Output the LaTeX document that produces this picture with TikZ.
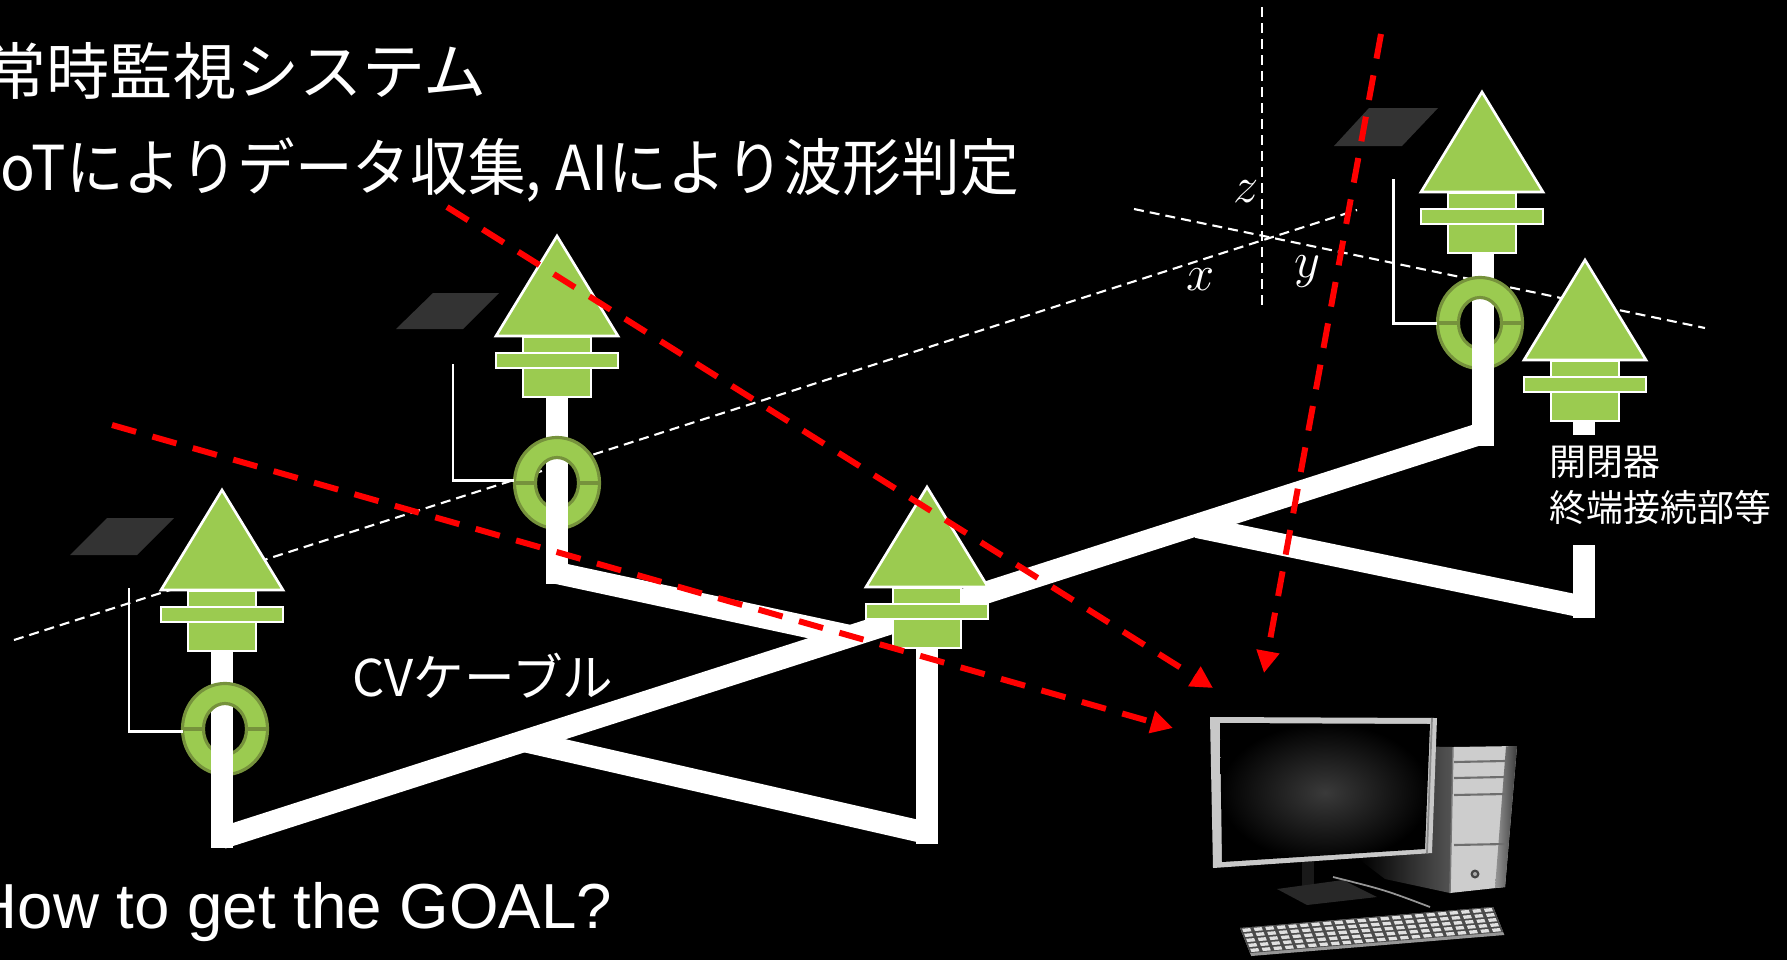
\documentclass[tikz,border=0pt]{standalone}
\usepackage{graphicx}
\usepackage{fontspec}
\newfontfamily\cjk{Noto Sans CJK JP}
\newfontfamily\arial{Liberation Sans}
\usetikzlibrary{arrows.meta}

\definecolor{sgreen}{RGB}{155,203,80}
\definecolor{sedge}{RGB}{118,146,60}
\definecolor{plate}{RGB}{51,51,51}
\definecolor{towerside}{RGB}{85,85,85}
\definecolor{towerfront}{RGB}{205,205,205}
\definecolor{stripL}{RGB}{150,150,150}
\definecolor{stripR}{RGB}{60,60,60}
\definecolor{edgegray}{RGB}{120,120,120}
\definecolor{baygray}{RGB}{110,110,110}
\definecolor{btndark}{RGB}{70,70,70}
\definecolor{btnlight}{RGB}{170,170,170}
\definecolor{neck}{RGB}{25,25,25}
\definecolor{standbase}{RGB}{40,40,40}
\definecolor{bezel}{RGB}{200,200,200}
\definecolor{bezeledge}{RGB}{140,140,140}
\definecolor{screenglow}{RGB}{58,58,58}
\definecolor{cordgray}{RGB}{150,150,150}
\definecolor{kbedge}{RGB}{150,150,150}
\definecolor{kbgap}{RGB}{75,75,75}
\definecolor{keycap}{RGB}{225,225,225}

\tikzset{
  cable/.style={draw=white, line width=0.22cm},
  axisline/.style={draw=white, line width=0.6pt, dash pattern=on 0.1cm off 0.06cm},
  signal/.style={draw=red, line width=1.7pt, dash pattern=on 0.25cm off 0.17cm,
    -{Triangle[length=0.22cm,width=0.22cm]}},
  wire/.style={draw=white, line width=0.85pt},
  part/.style={fill=sgreen, draw=white, line width=0.75pt},
  lbl/.style={text=white, inner sep=0pt},
  pics/sensor/.style={code={
    \path[part] (0,0) -- (61,100) -- (-61,100) -- cycle;
    \path[part] (-34,101) -- (34,101) -- (34,117) -- (-34,117) -- cycle;
    \path[part] (-61,117) -- (61,117) -- (61,132) -- (-61,132) -- cycle;
    \path[part] (-34,132) -- (34,132) -- (34,161) -- (-34,161) -- cycle;
  }},
}

% current-transformer ring, split in two halves
\newcommand\ctring[2]{%
  \begin{scope}[shift={(#1,#2)}]
    \fill[sgreen, even odd rule] (0,0) ellipse [x radius=0.43cm, y radius=0.46cm]
                                 (0,0) ellipse [x radius=0.21cm, y radius=0.25cm];
    \draw[sedge, line width=0.9pt] (0,0) ellipse [x radius=0.425cm, y radius=0.455cm]
                                   (0,0) ellipse [x radius=0.215cm, y radius=0.255cm];
    \draw[sedge, line width=1.2pt] (-43,0) -- (-21,0) (21,0) -- (43,0);
  \end{scope}}

\begin{document}
\begin{tikzpicture}[x=0.01cm, y=-0.01cm]
\useasboundingbox (0,0) rectangle (1787,960);
\fill[black] (0,0) rectangle (1787,960);
\clip (0,0) rectangle (1787,960);

% coordinate axes
\coordinate (xa0) at (14,640);   \coordinate (xa1) at (1357,210);
\coordinate (ya0) at (1134,209); \coordinate (ya1) at (1705,328);
\coordinate (za0) at (1262,7);   \coordinate (za1) at (1262,310);
\draw[axisline] (xa0) -- (xa1);
\draw[axisline] (ya0) -- (ya1);
\draw[axisline] (za0) -- (za1);
\node[lbl, anchor=base, font=\Large] (zlab) at (1246,202) {$z$};
\node[lbl, anchor=base, font=\Large] (xlab) at (1201,290) {$x$};
\node[lbl, anchor=base, font=\Large] (ylab) at (1307,277) {$y$};

% cable network: straight runs with flat ends
\draw[cable] (222,651) -- (222,848);
\draw[cable] (222,838) -- (1483,433);
\draw[cable] (1483,446) -- (1483,253);
\draw[cable] (557,397) -- (557,584);
\draw[cable] (557,573) -- (850,636);
\draw[cable] (524,741) -- (927,833);
\draw[cable] (927,646) -- (927,844);
\draw[cable] (1197,527) -- (1584,607);
\draw[cable] (1584,545) -- (1584,618);
\draw[cable] (1584,420) -- (1584,435);

% sensors
\pic at (222,490) {sensor};
\pic at (557,236) {sensor};
\pic at (927,487) {sensor};
\pic at (1482,92) {sensor};
\pic at (1585,260) {sensor};

% rings with the cable passing through
\ctring{225}{729}
\ctring{557}{483}
\ctring{1480}{323}
\draw[cable] (222,729) -- (222,779);
\draw[cable] (557,483) -- (557,531);
\draw[cable] (1483,323) -- (1483,372);

% sensor leads and wireless modules
\draw[wire] (129,588) -- (129,731) -- (183,731);
\draw[wire] (453,364) -- (453,480) -- (514,480);
\draw[wire] (1393,179) -- (1393,323) -- (1437,323);
\fill[plate] (107,518) -- (174,518) -- (137,555) -- (70,555) -- cycle;
\fill[plate] (433,293) -- (499,293) -- (463,329) -- (396,329) -- cycle;
\fill[plate] (1369,108) -- (1438,108) -- (1402,146) -- (1334,146) -- cycle;

% texts
\node[lbl, anchor=west, font=\cjk\fontsize{17.6}{21}\selectfont] (title) at (-17,71)
  {\scalebox{1.02}[1]{常時監視システム}};
\node[lbl, anchor=west, font=\cjk\fontsize{17.6}{21}\selectfont] (sub) at (-17,170)
  {\scalebox{0.93}[1]{IoTによりデータ収集,}\hspace{4pt}\scalebox{0.95}[1]{AIにより波形判定}};
\node[lbl, anchor=west, font=\cjk\fontsize{14.4}{17}\selectfont] (cv) at (352,676) {CVケーブル};
\node[lbl, anchor=west, font=\cjk\fontsize{10.5}{13}\selectfont] (sw1) at (1549,462) {開閉器};
\node[lbl, anchor=west, font=\cjk\fontsize{10.5}{13}\selectfont] (sw2) at (1549,507) {終端接続部等};
\node[lbl, anchor=base west, font=\arial\fontsize{18.1}{21}\selectfont] (goal) at (-29,928) {How to get the GOAL?};

% computer: tower
\shade[left color=black, right color=towerside]
  (1360,860) -- (1400,746) -- (1453,747) -- (1450,893) -- (1385,879) -- cycle;
\fill[towerfront] (1453,747) -- (1517,746) -- (1505,887) -- (1450,893) -- cycle;
\shade[left color=stripL, right color=stripR]
  (1506,746.3) -- (1517,746) -- (1505,887) -- (1495,888) -- cycle;
\draw[edgegray, line width=0.4pt] (1453,747) -- (1450,893);
\foreach \yy in {762,778,795,845}
  \draw[baygray, line width=0.6pt] (1454,\yy) -- (1505,\yy-1);
\fill[btndark] (1475,874) circle [radius=0.045cm];
\fill[btnlight] (1475,874) circle [radius=0.02cm];

% computer: monitor
\fill[neck] (1302,860) -- (1314,860) -- (1314,890) -- (1302,890) -- cycle;
\fill[standbase] (1277,889) -- (1343,880) -- (1377,897) -- (1307,905) -- cycle;
\fill[bezel] (1210,717) -- (1437,718) -- (1432,853) -- (1213,868) -- cycle;
\draw[bezeledge, line width=0.5pt] (1432,718) -- (1427,853);
\shade[inner color=screenglow, outer color=black]
  (1220,723) -- (1430,724) -- (1425,849) -- (1222,862) -- cycle;

% computer: keyboard
\draw[cordgray, line width=0.5pt] (1333,877) .. controls (1385,890) .. (1430,907);
\begin{scope}[shift={(1240,928)}]
  \begin{scope}[x={(2.53cm,0.21cm)}, y={(0.1cm,-0.25cm)}]
    \fill[kbedge] (0,0) -- (1,0) -- (1,1.12) -- (0,1.12) -- cycle;
    \fill[kbgap] (0,0) -- (1,0) -- (1,1) -- (0,1) -- cycle;
    \foreach \i in {0,...,21}
      \foreach \j in {0,...,4}
        \fill[keycap]
          (\i/22+0.007, \j/5+0.035) -- (\i/22+1/22-0.007, \j/5+0.035)
          -- (\i/22+1/22-0.007, \j/5+0.165) -- (\i/22+0.007, \j/5+0.165) -- cycle;
  \end{scope}
\end{scope}

% data paths to the computer
\coordinate (a0) at (447,207);  \coordinate (a1) at (1213,688);
\coordinate (b0) at (112,425);  \coordinate (b1) at (1173,728);
\coordinate (c0) at (1381,34);  \coordinate (c1) at (1264,673);
\draw[signal] (a0) -- (a1);
\draw[signal] (b0) -- (b1);
\draw[signal] (c0) -- (c1);
\end{tikzpicture}
\end{document}
